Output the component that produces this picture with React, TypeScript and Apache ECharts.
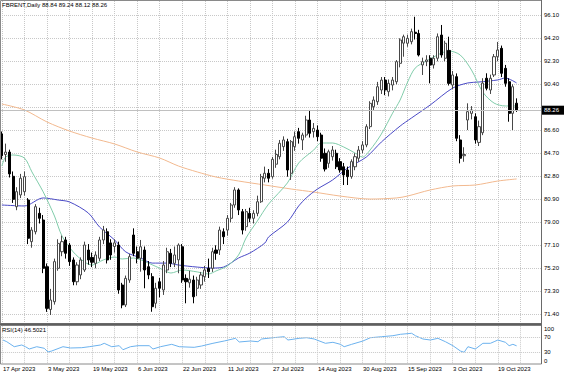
import React, { useEffect, useRef } from 'react';
import * as echarts from 'echarts';

const FONT = '"Liberation Sans", Arial, sans-serif';

// ---- calendar (categories) ----
const START_DATE = '2023-04-17';
const SKIPPED_DATES = ['2023-07-04'];
const TOTAL_SLOTS = 144; // 138 bars + chart shift
const MONTHS = ['Jan', 'Feb', 'Mar', 'Apr', 'May', 'Jun', 'Jul', 'Aug', 'Sep', 'Oct', 'Nov', 'Dec'];

// ---- candles ----
const opens = [
  86.30, 84.60, 84.80, 82.80, 80.29, 81.26, 81.53, 80.84, 77.40, 78.22,
  79.74, 79.19, 75.33, 71.80, 72.44, 75.20, 76.57, 77.54, 77.12, 75.89,
  74.09, 74.65, 75.06, 76.71, 76.10, 75.61, 76.03, 77.54, 78.22, 77.30,
  77.00, 77.12, 73.82, 72.17, 74.23, 77.95, 76.57, 76.03, 76.71, 75.33,
  74.51, 72.31, 74.09, 73.41, 75.06, 76.44, 75.61, 75.90, 76.98, 74.37,
  74.00, 74.23, 73.55, 73.82, 74.51, 75.20, 75.20, 76.71, 76.71, 78.22,
  78.36, 79.33, 80.43, 81.67, 79.88, 78.64, 79.74, 79.33, 79.74, 80.70,
  82.64, 83.05, 82.77, 83.80, 84.42, 85.25, 85.66, 83.05, 85.25, 86.49,
  85.80, 86.21, 87.45, 86.49, 86.62, 86.21, 84.70, 83.87, 84.42, 84.70,
  84.01, 83.59, 83.32, 82.77, 83.59, 84.29, 84.97, 85.39, 86.90, 88.55,
  88.96, 89.93, 90.75, 89.79, 90.34, 90.61, 92.13, 93.80, 93.79, 93.92,
  94.70, 94.60, 92.00, 92.27, 92.55, 92.00, 92.55, 94.47, 92.55, 93.20,
  90.34, 91.03, 85.80, 84.50, 87.45, 88.00, 87.72, 85.60, 86.40, 90.90,
  89.93, 91.17, 92.68, 93.37, 91.72, 90.61, 88.00, 88.84,
];
const highs = [
  86.50, 85.50, 85.00, 83.20, 81.90, 83.00, 83.20, 81.00, 78.60, 80.50,
  80.20, 79.60, 75.60, 73.50, 76.00, 77.60, 77.90, 77.80, 77.30, 76.10,
  75.70, 76.10, 77.40, 77.20, 76.50, 76.60, 77.80, 78.70, 78.50, 77.60,
  77.60, 77.40, 74.00, 74.60, 76.40, 78.50, 77.00, 77.54, 77.00, 75.80,
  74.80, 74.00, 74.40, 75.80, 76.90, 76.80, 77.00, 77.26, 77.20, 74.70,
  75.00, 74.60, 74.50, 74.90, 75.40, 76.00, 76.90, 77.10, 78.64, 78.50,
  79.60, 80.60, 81.90, 81.80, 80.10, 80.10, 80.20, 80.00, 81.20, 83.00,
  83.60, 83.40, 84.40, 85.00, 85.80, 86.10, 85.90, 85.80, 86.50, 86.80,
  86.40, 87.80, 88.28, 87.20, 87.00, 86.40, 85.10, 85.00, 85.30, 85.00,
  84.30, 83.90, 83.60, 84.20, 84.70, 85.30, 85.70, 87.10, 89.00, 89.40,
  90.60, 91.00, 91.00, 90.80, 91.00, 92.40, 94.20, 94.50, 94.50, 95.00,
  95.98, 94.90, 92.60, 92.80, 92.80, 92.80, 94.60, 95.30, 94.00, 94.33,
  91.50, 91.30, 86.20, 85.20, 88.83, 88.60, 88.00, 87.40, 90.90, 91.31,
  91.20, 92.90, 93.90, 93.60, 92.00, 90.90, 90.40, 89.24,
];
const lows = [
  84.20, 84.00, 82.70, 80.60, 80.00, 81.00, 81.20, 77.20, 76.90, 78.00,
  78.90, 74.80, 71.60, 71.34, 72.20, 75.00, 76.20, 76.00, 75.40, 73.80,
  73.80, 74.30, 74.90, 75.50, 75.30, 75.20, 75.80, 77.20, 75.60, 75.90,
  76.50, 73.10, 71.90, 72.00, 74.00, 76.20, 75.61, 74.92, 73.55, 74.30,
  71.61, 71.90, 72.80, 73.00, 74.80, 75.30, 75.30, 74.79, 74.00, 72.31,
  73.60, 72.31, 72.90, 73.50, 74.10, 74.40, 74.90, 75.90, 76.30, 77.20,
  77.90, 79.00, 80.20, 79.60, 78.00, 78.30, 79.00, 78.90, 79.50, 80.60,
  82.30, 82.30, 82.60, 83.50, 84.20, 84.90, 82.77, 82.50, 84.90, 85.50,
  84.97, 86.00, 86.00, 86.00, 85.70, 84.00, 83.20, 83.50, 84.10, 83.40,
  83.10, 82.08, 82.08, 82.60, 83.30, 84.00, 84.70, 85.20, 86.70, 88.20,
  88.70, 89.60, 89.50, 89.40, 89.90, 90.40, 91.80, 92.68, 93.50, 93.70,
  94.10, 92.70, 91.17, 91.90, 90.48, 91.70, 92.30, 92.60, 92.30, 90.30,
  90.00, 85.70, 83.87, 84.00, 86.62, 87.50, 85.50, 85.30, 86.20, 89.90,
  89.60, 91.00, 92.30, 91.00, 90.20, 87.31, 86.62, 88.12,
];
const closes = [
  84.50, 84.80, 83.00, 80.90, 81.53, 82.64, 82.77, 77.68, 78.36, 80.29,
  79.33, 75.20, 71.89, 72.58, 75.75, 77.26, 77.40, 76.44, 75.75, 74.09,
  75.47, 75.89, 77.12, 75.89, 75.70, 76.30, 77.54, 78.36, 75.89, 76.30,
  77.30, 73.41, 72.17, 74.37, 76.16, 76.44, 76.03, 76.98, 75.06, 74.65,
  72.03, 73.55, 73.55, 75.47, 76.57, 75.61, 76.30, 77.12, 74.23, 74.09,
  74.30, 72.85, 74.23, 74.65, 75.06, 74.92, 76.57, 76.44, 78.36, 77.81,
  79.33, 80.43, 81.67, 80.02, 78.36, 79.88, 79.33, 79.74, 80.70, 82.77,
  83.05, 82.64, 84.20, 84.60, 85.53, 85.80, 83.32, 85.66, 86.07, 85.94,
  86.21, 87.45, 86.35, 86.76, 86.07, 84.29, 83.40, 84.83, 84.97, 83.59,
  83.32, 82.91, 82.77, 84.01, 84.42, 84.97, 85.39, 86.90, 88.83, 89.10,
  90.20, 90.75, 89.93, 90.48, 90.75, 92.27, 94.06, 94.33, 94.20, 94.75,
  94.60, 92.82, 92.27, 92.41, 91.99, 92.55, 94.33, 92.82, 93.79, 90.48,
  91.17, 85.94, 84.29, 84.60, 88.14, 88.28, 85.80, 86.90, 90.50, 90.07,
  90.90, 92.68, 93.23, 91.31, 90.48, 88.00, 90.20, 88.26,
];

// ---- moving averages, [bar index, price] ----
const maSlow = [
  [0, 88.77], [6, 88.28], [12, 87.29], [18, 86.54], [24, 85.96], [30, 85.47],
  [36, 84.81], [42, 84.31], [47, 83.65], [52, 83.16], [57, 82.74], [63, 82.41],
  [70, 82.08], [77, 81.75], [83, 81.50], [90, 81.17], [98, 80.92], [105, 81.01],
  [108, 81.17], [114, 81.67], [120, 82.00], [126, 82.08], [132, 82.41], [137, 82.58],
];
const maMid = [
  [0, 80.43], [6, 80.35], [11, 81.01], [15, 80.84], [18, 80.68], [23, 79.77],
  [26, 78.61], [30, 77.54], [33, 76.55], [37, 76.05], [40, 75.63], [44, 75.63],
  [47, 75.47], [52, 75.30], [56, 75.22], [59, 75.30], [63, 76.05], [66, 76.46],
  [70, 77.29], [71, 77.79], [76, 79.02], [79, 80.35], [81, 81.01], [84, 81.75],
  [88, 82.49], [92, 83.48], [97, 84.39], [101, 85.63], [106, 86.95], [109, 87.61],
  [114, 88.69], [120, 90.09], [124, 90.51], [127, 90.59], [132, 90.76], [134, 90.92],
  [137, 90.51],
];
const maFast = [
  [0, 83.65], [1, 84.39], [3, 84.56], [6, 84.31], [8, 83.16], [11, 81.51],
  [14, 79.52], [16, 77.87], [19, 76.55], [22, 75.72], [24, 75.47], [27, 75.89],
  [30, 76.13], [32, 75.97], [35, 76.05], [39, 75.63], [43, 75.06], [45, 74.81],
  [48, 75.06], [52, 74.90], [55, 74.73], [57, 74.98], [60, 75.39], [63, 76.30],
  [65, 77.71], [68, 79.11], [71, 80.51], [76, 82.25], [79, 83.90], [83, 84.97],
  [85, 85.55], [88, 85.55], [91, 85.22], [94, 84.72], [96, 84.39], [98, 84.97],
  [101, 86.29], [104, 88.02], [106, 89.10], [108, 90.59], [110, 91.74], [113, 92.32],
  [117, 92.98], [119, 93.15], [122, 92.82], [125, 91.58], [128, 89.76], [131, 88.85],
  [134, 88.61], [137, 88.61],
];

// ---- RSI(14), [bar index, value] ----
const rsiPoints = [
  [0, 62.0], [1, 57.5], [3, 44.1], [5, 48.7], [6, 44.1], [7, 38.0], [9, 44.1],
  [11, 39.9], [12, 30.0], [13, 32.7], [16, 44.1], [18, 40.7], [21, 41.5], [23, 44.1],
  [26, 48.7], [27, 53.2], [29, 44.1], [31, 46.8], [32, 36.1], [34, 44.1], [36, 46.8],
  [39, 46.8], [40, 38.0], [42, 44.1], [45, 50.5], [47, 44.1], [51, 42.5], [53, 46.0],
  [56, 53.2], [59, 59.3], [62, 66.5], [63, 56.7], [66, 59.3], [68, 57.5], [69, 64.7],
  [72, 68.1], [75, 70.8], [76, 62.0], [79, 66.5], [81, 68.1], [83, 64.7], [86, 53.2],
  [88, 55.9], [90, 50.5], [91, 44.1], [93, 50.5], [96, 59.3], [98, 68.1], [101, 70.8],
  [104, 73.5], [106, 77.2], [109, 79.9], [110, 73.5], [112, 64.7], [114, 62.0],
  [116, 66.5], [118, 57.5], [120, 46.8], [122, 32.7], [123, 29.2], [124, 44.1],
  [126, 38.0], [128, 53.2], [130, 53.2], [131, 57.5], [132, 62.0], [134, 55.9],
  [135, 46.8], [136, 50.5], [137, 46.5],
];

// ---- axis / text values ----
const PRICE_MIN = 71.4;
const PRICE_MAX = 96.1;
const PRICE_STEP = 1.9;
const LAST_PRICE = 88.26;
const RSI_LEVELS = [70, 30];
const RSI_LABELS = [100, 70, 30, 0];
const TITLE_TEXT = 'FBRENT,Daily 88.84 89.24 88.12 88.26';
const RSI_TITLE = 'RSI(14) 46.5021';
const GRID_EVERY = 6;
const LABEL_EVERY = 12;

function tradingDays(start: string, skip: string[], count: number): string[] {
  const out: string[] = [];
  const d = new Date(start + 'T00:00:00Z');
  while (out.length < count) {
    const wd = d.getUTCDay();
    const iso = d.toISOString().slice(0, 10);
    if (wd !== 0 && wd !== 6 && !skip.includes(iso)) {
      out.push(`${d.getUTCDate()} ${MONTHS[d.getUTCMonth()]} ${d.getUTCFullYear()}`);
    }
    d.setUTCDate(d.getUTCDate() + 1);
  }
  return out;
}

export default function App() {
  const ref = useRef<HTMLDivElement>(null);

  useEffect(() => {
    if (!ref.current) return;
    const chart = echarts.init(ref.current, undefined, { renderer: 'svg' });
    const dates = tradingDays(START_DATE, SKIPPED_DATES, TOTAL_SLOTS);
    const nBars = closes.length;
    const candleData = opens.map((o, i) => [o, closes[i], lows[i], highs[i]]);

    const W = 564;
    const RIGHT = 23;
    const PLOT_W = W - RIGHT;
    const band = PLOT_W / TOTAL_SLOTS;
    const gridSpan = Math.floor((nBars - 1) / GRID_EVERY) * GRID_EVERY + GRID_EVERY; // 138

    const dotted = { color: '#c8c8c8', type: 'dotted' as const, width: 1 };
    const txt = { fontSize: 6, color: '#000', fontFamily: FONT };

    const mainTop = 15.3;
    const mainH = 299;
    const rsiTop = 325.75;
    const rsiH = 37.5;

    const frame = [
      { type: 'rect', z: 100, silent: true, shape: { x: 0.5, y: 0.5, width: PLOT_W, height: 323 }, style: { fill: 'none', stroke: '#8a8a8a', lineWidth: 1 } },
      { type: 'rect', z: 100, silent: true, shape: { x: 0.5, y: 325.5, width: PLOT_W, height: 38.5 }, style: { fill: 'none', stroke: '#8a8a8a', lineWidth: 1 } },
      { type: 'line', z: 101, silent: true, shape: { x1: 0, y1: 324.2, x2: PLOT_W + 1, y2: 324.2 }, style: { stroke: '#5e5e5e', lineWidth: 2 } },
      { type: 'line', z: 101, silent: true, shape: { x1: PLOT_W + 0.5, y1: 0, x2: PLOT_W + 0.5, y2: 364 }, style: { stroke: '#6a6a6a', lineWidth: 1 } },
    ];

    const option: any = {
      animation: false,
      backgroundColor: '#ffffff',
      textStyle: { fontFamily: FONT },
      title: [
        { text: TITLE_TEXT, left: 2, top: 2, padding: 0, textStyle: { ...txt, fontWeight: 'normal' } },
        { text: RSI_TITLE, left: 2, top: 327, padding: 0, textStyle: { ...txt, fontWeight: 'normal' } },
      ],
      grid: [
        { left: 0, right: RIGHT, top: mainTop, height: mainH },
        { left: 0, right: RIGHT, top: rsiTop, height: rsiH },
        { left: band / 2, width: band * gridSpan, top: 1, height: 322 },
        { left: band / 2, width: band * gridSpan, top: rsiTop, height: rsiH },
      ],
      xAxis: [
        {
          type: 'category', gridIndex: 0, data: dates, boundaryGap: true,
          axisLine: { show: false }, axisTick: { show: false }, axisLabel: { show: false }, splitLine: { show: false },
        },
        {
          type: 'category', gridIndex: 1, data: dates, boundaryGap: true,
          axisLine: { show: false }, axisTick: { show: false },
          axisLabel: { show: true, interval: LABEL_EVERY - 1, align: 'left', margin: 3, ...txt },
          splitLine: { show: false },
        },
        {
          type: 'value', gridIndex: 2, min: 0, max: gridSpan, interval: GRID_EVERY,
          axisLine: { show: false }, axisTick: { show: false }, axisLabel: { show: false },
          splitLine: { show: true, lineStyle: dotted },
        },
        {
          type: 'value', gridIndex: 3, min: 0, max: gridSpan, interval: GRID_EVERY,
          axisLine: { show: false }, axisTick: { show: false }, axisLabel: { show: false },
          splitLine: { show: true, lineStyle: dotted },
        },
      ],
      yAxis: [
        {
          type: 'value', gridIndex: 0, min: PRICE_MIN, max: PRICE_MAX,
          axisLine: { show: false }, axisTick: { show: false }, axisLabel: { show: false }, splitLine: { show: false },
        },
        {
          type: 'value', gridIndex: 0, position: 'right', min: 0, max: +(PRICE_MAX - PRICE_MIN).toFixed(2), interval: PRICE_STEP,
          axisLine: { show: false }, axisTick: { show: false },
          axisLabel: {
            show: true, margin: 3, ...txt,
            // the last-price tag covers the grid label nearest to it
            formatter: (v: number) => {
              const p = v + PRICE_MIN;
              return Math.abs(p - LAST_PRICE) < PRICE_STEP / 2 ? '' : p.toFixed(2);
            },
          },
          splitLine: { show: true, lineStyle: dotted },
        },
        {
          type: 'value', gridIndex: 1, position: 'right', min: 0, max: 100, interval: 10,
          axisLine: { show: false }, axisTick: { show: false }, splitLine: { show: false },
          axisLabel: {
            show: true, margin: 3, ...txt,
            formatter: (v: number) => {
              if (!RSI_LABELS.includes(v)) return '';
              if (v === 100) return '{t|100}';
              if (v === 0) return '{b|0}';
              return String(v);
            },
            rich: {
              t: { padding: [6, 0, 0, 0], fontSize: 6, color: '#000', fontFamily: FONT },
              b: { padding: [0, 0, 5, 0], fontSize: 6, color: '#000', fontFamily: FONT },
            },
          },
        },
        { type: 'value', gridIndex: 2, min: 0, max: 1, show: false },
        { type: 'value', gridIndex: 3, min: 0, max: 1, show: false },
      ],
      series: [
        {
          name: 'MA slow', type: 'line', xAxisIndex: 0, yAxisIndex: 0, data: maSlow,
          showSymbol: false, smooth: 0.3, lineStyle: { color: '#f2b98f', width: 1 }, z: 1,
        },
        {
          name: 'MA mid', type: 'line', xAxisIndex: 0, yAxisIndex: 0, data: maMid,
          showSymbol: false, smooth: 0.3, lineStyle: { color: '#4a4ac6', width: 1 }, z: 1,
        },
        {
          name: 'MA fast', type: 'line', xAxisIndex: 0, yAxisIndex: 0, data: maFast,
          showSymbol: false, smooth: 0.3, lineStyle: { color: '#80ccaa', width: 1 }, z: 1,
        },
        {
          name: 'FBRENT', type: 'candlestick', xAxisIndex: 0, yAxisIndex: 0,
          data: candleData, barWidth: 2.6, z: 3,
          itemStyle: { color: '#ffffff', color0: '#000000', borderColor: '#484848', borderColor0: '#000000', borderWidth: 1 },
          markLine: {
            silent: true, symbol: ['none', 'none'], animation: false,
            lineStyle: { color: '#c0c0c0', type: 'solid', width: 1 },
            label: {
              show: true, position: 'end', distance: 3, formatter: LAST_PRICE.toFixed(2),
              color: '#fff', fontSize: 6, fontFamily: FONT,
            },
            data: [{ yAxis: LAST_PRICE }],
          },
        },
        {
          name: 'RSI', type: 'line', xAxisIndex: 1, yAxisIndex: 2, data: rsiPoints,
          showSymbol: false, lineStyle: { color: '#6cb2ee', width: 1 },
          markLine: {
            silent: true, symbol: ['none', 'none'], animation: false,
            lineStyle: dotted, label: { show: false },
            data: RSI_LEVELS.map((v) => ({ yAxis: v })),
          },
        },
      ],
      graphic: frame,
    };

    chart.setOption(option);

    // black price tag behind the last-price label, placed through the price scale
    const py = chart.convertToPixel({ yAxisIndex: 0 } as any, LAST_PRICE) as number;
    chart.setOption({
      graphic: [
        ...frame,
        { type: 'rect', z: -1, silent: true, shape: { x: PLOT_W + 1, y: py - 4.5, width: 22, height: 9 }, style: { fill: '#000' } },
      ],
    });

    return () => chart.dispose();
  }, []);

  return (
    <div
      ref={ref}
      style={{ position: 'fixed', left: 0, top: 0, width: 564, height: 376, background: '#fff' }}
    />
  );
}
